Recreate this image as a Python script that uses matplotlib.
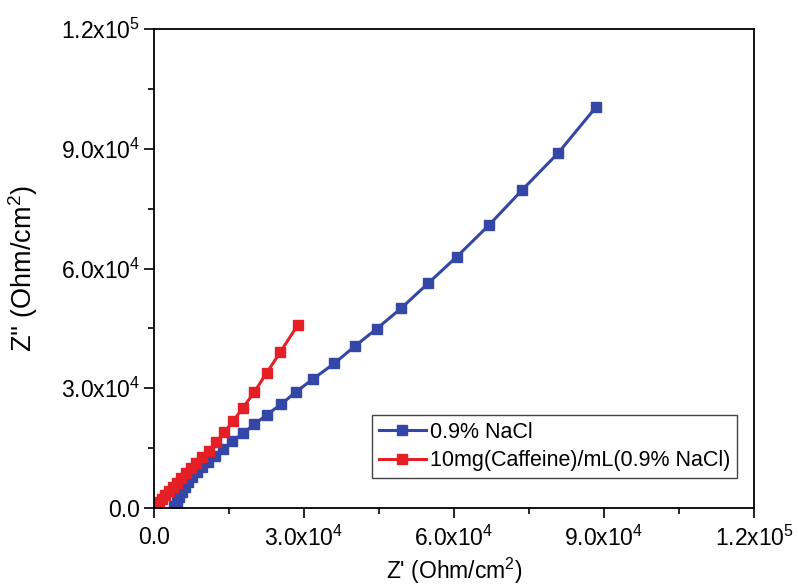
import matplotlib
matplotlib.use("Agg")
import matplotlib.pyplot as plt
from matplotlib.ticker import FixedLocator, MultipleLocator

plt.rcParams["font.family"] = ["Liberation Sans", "DejaVu Sans"]
plt.rcParams["mathtext.fontset"] = "custom"
plt.rcParams["mathtext.rm"] = "Liberation Sans"
plt.rcParams["mathtext.it"] = "Liberation Sans"

# 0.9% NaCl
nacl_x = [4000, 4500, 5000, 5600, 6200, 6800, 7600, 8600, 9600, 10860, 12260,
          13860, 15600, 17740, 20060, 22540, 25460, 28340, 31860, 36060, 40200,
          44540, 49460, 54800, 60540, 66940, 73600, 80860, 88340]
nacl_y = [500, 1500, 2760, 4000, 5260, 6510, 7770, 9020, 10270, 11600, 13100,
          14850, 16700, 18710, 20970, 23370, 26050, 29060, 32390, 36250, 40580,
          44920, 50100, 56290, 62950, 70820, 79660, 89000, 100375]

# 10mg(Caffeine)/mL(0.9% NaCl)
caf_x = [200, 500, 1000, 1600, 2200, 3000, 3800, 4600, 5400, 6400, 7400, 8400,
         9600, 10940, 12400, 14060, 15860, 17800, 20060, 22540, 25260, 28740]
caf_y = [250, 750, 1500, 2250, 3260, 4260, 5260, 6260, 7515, 8770, 10020, 11200,
         12700, 14350, 16460, 18960, 21870, 25130, 29060, 33890, 39080, 45840]

ticks = [0, 30000, 60000, 90000, 120000]
tick_labels = ["0.0", "3.0x10$^{4}$", "6.0x10$^{4}$", "9.0x10$^{4}$", "1.2x10$^{5}$"]

fig = plt.figure(figsize=(7.98, 5.86), dpi=100)
ax = fig.add_axes([0.193, 0.133, 0.752, 0.8175])

ax.plot(nacl_x, nacl_y, "-s", color="#3447a6", lw=2.2, ms=6.5,
        label="0.9% NaCl")
ax.plot(caf_x, caf_y, "-s", color="#e41f26", lw=2.2, ms=6.5,
        label="10mg(Caffeine)/mL(0.9% NaCl)")

ax.set_xlim(0, 120000)
ax.set_ylim(0, 120000)
ax.xaxis.set_major_locator(FixedLocator(ticks))
ax.yaxis.set_major_locator(FixedLocator(ticks))
ax.xaxis.set_minor_locator(MultipleLocator(15000))
ax.yaxis.set_minor_locator(MultipleLocator(15000))
ax.set_xticklabels(tick_labels)
ax.set_yticklabels(tick_labels)
ax.tick_params(which="major", direction="out", length=7, width=1.2,
               labelsize=16.5, pad=3)
ax.tick_params(axis="x", which="major", pad=6)
ax.tick_params(which="minor", direction="out", length=4, width=1.2)
for s in ax.spines.values():
    s.set_linewidth(1.3)

ax.set_xlabel("Z' (Ohm/cm$^{2}$)", fontsize=16.5, labelpad=3)
ax.set_ylabel("Z'' (Ohm/cm$^{2}$)", fontsize=19.5, labelpad=15)

leg = ax.legend(loc="lower right", bbox_to_anchor=(0.972, 0.063), fontsize=15.5,
                fancybox=False, framealpha=1, edgecolor="#444444",
                handlelength=2.2, borderpad=0.3, labelspacing=0.35,
                handletextpad=0.2, borderaxespad=0)
leg.get_frame().set_linewidth(1.0)

fig.savefig("out.png", dpi=100)
